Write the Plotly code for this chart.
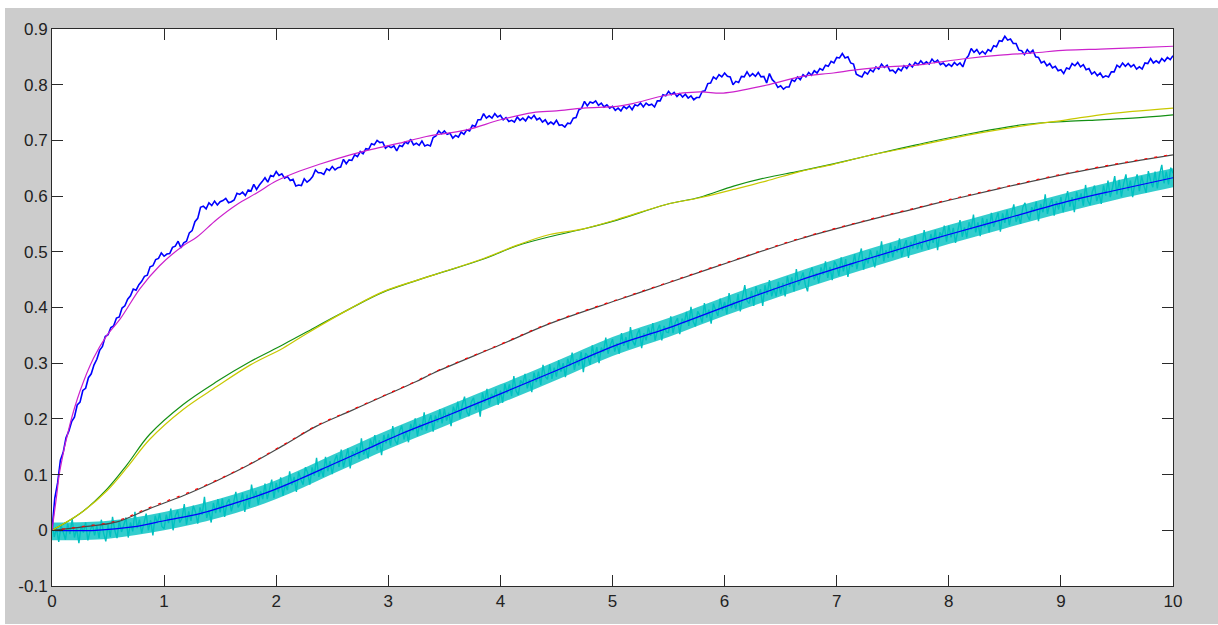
import plotly.graph_objects as go

# ---------------- data ----------------
x_ticks = [0, 1, 2, 3, 4, 5, 6, 7, 8, 9, 10]
x_tick_text = ["0", "1", "2", "3", "4", "5", "6", "7", "8", "9", "10"]
y_ticks = [-0.1, 0, 0.1, 0.2, 0.3, 0.4, 0.5, 0.6, 0.7, 0.8, 0.9]
y_tick_text = ["-0.1", "0", "0.1", "0.2", "0.3", "0.4", "0.5", "0.6", "0.7", "0.8", "0.9"]

# noisy blue trace, thousandths, one sample every 0.025 from 0 to 10
blue_step = 0.025
blue_milli = [
    0, 58, 85, 126, 140, 166, 178, 195, 203, 225, 230, 251, 255, 274, 281, 297, 307, 323, 330, 348,
    351, 364, 367, 381, 383, 399, 403, 415, 421, 433, 431, 441, 447, 456, 458, 473, 475, 486, 488, 498,
    492, 496, 497, 508, 510, 519, 507, 516, 519, 534, 538, 554, 560, 580, 582, 577, 588, 583, 591, 584,
    590, 592, 596, 588, 590, 593, 605, 603, 607, 601, 611, 609, 621, 612, 620, 626, 633, 625, 637, 635,
    644, 637, 640, 632, 635, 628, 630, 618, 620, 619, 631, 625, 629, 635, 647, 642, 642, 639, 649, 646,
    653, 647, 651, 652, 666, 658, 665, 664, 674, 671, 680, 676, 685, 684, 694, 692, 700, 696, 697, 686,
    690, 687, 690, 681, 691, 689, 697, 694, 702, 692, 695, 691, 699, 690, 692, 690, 705, 708, 717, 712,
    717, 711, 713, 704, 709, 706, 715, 711, 719, 717, 727, 725, 737, 737, 748, 740, 744, 740, 748, 742,
    745, 737, 741, 734, 736, 733, 742, 736, 740, 735, 743, 739, 745, 737, 740, 733, 737, 729, 733, 729,
    736, 727, 728, 724, 731, 730, 740, 741, 755, 758, 770, 762, 769, 767, 771, 763, 767, 760, 764, 758,
    761, 754, 758, 753, 761, 757, 762, 755, 764, 762, 767, 760, 767, 763, 765, 760, 771, 771, 782, 780,
    788, 782, 786, 779, 784, 778, 783, 776, 780, 773, 777, 777, 788, 789, 802, 803, 814, 810, 818, 814,
    821, 815, 814, 800, 806, 804, 815, 814, 823, 815, 820, 815, 822, 814, 815, 803, 820, 809, 804, 795,
    798, 792, 796, 796, 809, 806, 814, 809, 818, 814, 822, 817, 825, 821, 829, 826, 835, 833, 842, 839,
    849, 848, 856, 848, 850, 839, 837, 819, 816, 814, 823, 819, 827, 823, 832, 828, 837, 831, 835, 825,
    826, 821, 829, 825, 834, 829, 837, 832, 840, 836, 843, 837, 841, 837, 846, 840, 844, 836, 839, 833,
    837, 833, 840, 835, 839, 832, 846, 852, 865, 858, 863, 855, 860, 855, 863, 860, 870, 868, 879, 878,
    887, 880, 882, 874, 874, 862, 861, 854, 863, 857, 862, 850, 849, 839, 842, 834, 838, 830, 833, 825,
    827, 820, 830, 828, 838, 834, 840, 832, 836, 827, 829, 819, 823, 816, 821, 813, 816, 814, 823, 823,
    835, 831, 839, 833, 838, 832, 836, 828, 832, 828, 839, 838, 847, 839, 843, 839, 847, 842, 849, 845,
    852,
]

# magenta smooth fit of the blue trace
magenta_x = [0, 0.04, 0.07, 0.16, 0.25, 0.37, 0.49, 0.61, 0.785, 0.96, 1.17, 1.29, 1.47, 1.65, 1.83, 2.0,
             2.21, 2.4, 2.66, 2.9, 3.1, 3.34, 3.7, 4.0, 4.29, 4.5, 4.74, 5.04, 5.18, 5.48, 5.78, 5.99,
             6.37, 6.67, 6.97, 7.15, 7.42, 7.71, 7.86, 8.16, 8.46, 8.75, 9.05, 9.35, 9.64, 10]
magenta_y = [0, 0.06, 0.107, 0.19, 0.25, 0.309, 0.35, 0.38, 0.434, 0.475, 0.511, 0.526, 0.558, 0.585, 0.606, 0.627,
             0.645, 0.658, 0.674, 0.686, 0.695, 0.707, 0.719, 0.737, 0.75, 0.753, 0.758, 0.761, 0.766, 0.781, 0.787, 0.785,
             0.799, 0.814, 0.821, 0.826, 0.832, 0.835, 0.839, 0.847, 0.853, 0.857, 0.862, 0.864, 0.866, 0.869]

# green / yellow pair
gy_x = [0, 0.25, 0.49, 0.67, 0.87, 1.17, 1.47, 1.77, 2.06, 2.27, 2.66, 2.96, 3.40, 3.85, 4.15, 4.44,
        4.74, 5.04, 5.48, 5.78, 6.08, 6.37, 6.67, 6.97, 7.27, 7.71, 8.16, 8.69, 9.05, 9.35, 9.64, 10]
green_y = [0, 0.03, 0.074, 0.118, 0.172, 0.226, 0.267, 0.303, 0.333, 0.356, 0.398, 0.428, 0.458, 0.487, 0.511, 0.527,
           0.541, 0.557, 0.585, 0.598, 0.618, 0.633, 0.645, 0.658, 0.672, 0.692, 0.711, 0.729, 0.734, 0.737, 0.740, 0.746]
yellow_y = [0, 0.03, 0.071, 0.113, 0.163, 0.217, 0.258, 0.297, 0.327, 0.353, 0.398, 0.429, 0.458, 0.488, 0.512, 0.531,
            0.541, 0.558, 0.585, 0.597, 0.612, 0.627, 0.644, 0.657, 0.672, 0.690, 0.709, 0.727, 0.737, 0.746, 0.752, 0.758]

# red / dark-gray pair
rk_x = [0, 0.28, 0.58, 0.87, 1.17, 1.47, 1.77, 2.06, 2.36, 2.66, 2.96, 3.25, 3.40, 4.0, 4.44, 5.04,
        5.48, 6.08, 6.67, 7.27, 7.71, 8.01, 8.46, 9.05, 9.64, 10]
red_y = [0, 0.007, 0.017, 0.041, 0.064, 0.090, 0.120, 0.153, 0.188, 0.215, 0.242, 0.268, 0.283, 0.334, 0.372, 0.414,
         0.444, 0.485, 0.524, 0.557, 0.579, 0.594, 0.615, 0.641, 0.663, 0.675]
gray_y = [0, 0.006, 0.015, 0.039, 0.062, 0.089, 0.119, 0.152, 0.187, 0.214, 0.241, 0.267, 0.282, 0.333, 0.371, 0.413,
          0.443, 0.484, 0.523, 0.556, 0.578, 0.593, 0.614, 0.640, 0.662, 0.674]

# dark blue smooth curve under the cyan band
dblue_x = [0, 0.39, 0.72, 1.02, 1.32, 1.62, 1.92, 2.21, 2.51, 2.81, 3.10, 3.55, 4.0, 4.5, 5.04, 5.48,
           6.08, 6.67, 7.27, 7.71, 8.0, 8.5, 9.05, 9.5, 10]
dblue_y = [0, 0, 0.006, 0.018, 0.03, 0.048, 0.068, 0.092, 0.119, 0.146, 0.172, 0.208, 0.245, 0.287, 0.333, 0.362,
           0.407, 0.449, 0.487, 0.514, 0.531, 0.559, 0.59, 0.611, 0.633]

# dense core of the cyan noise band (upper / lower edge), every 0.5
band_x = [0, 0.5, 1, 1.5, 2, 2.5, 3, 3.5, 4, 4.5, 5, 5.5, 6, 6.5, 7, 7.5, 8, 8.5, 9, 9.5, 10]
band_upper = [0.014, 0.017, 0.033, 0.057, 0.090, 0.135, 0.180, 0.221, 0.262, 0.304, 0.347, 0.381,
              0.419, 0.454, 0.487, 0.518, 0.548, 0.576, 0.603, 0.628, 0.650]
band_lower = [-0.018, -0.015, 0.000, 0.023, 0.056, 0.101, 0.146, 0.187, 0.228, 0.270, 0.313, 0.347,
              0.385, 0.420, 0.453, 0.484, 0.514, 0.542, 0.569, 0.594, 0.616]

# cyan noisy measurement, thousandths, one sample every 0.02 from 0 to 10
cyan_step = 0.02
cyan_milli = [
    15, -12, 4, -21, 9, -3, -17, 12, -7, 20, -13, 3, -23, 8, -4, 14, -18, -1, 11, -9, 8, -14, 19, -5, -20,
    10, -12, 24, 0, -14, 17, -3, 9, 23, -13, 14, -2, 33, 4, 19, -5, 13, 30, 0, 18, -9, 26, 13, 30, 7,
    3, 28, 13, 39, 0, 26, 36, 14, 22, 47, 10, 34, 17, 44, 33, 12, 41, 28, 60, 22, 36, 14, 49, 31, 56,
    32, 57, 24, 49, 56, 34, 50, 69, 41, 48, 67, 33, 64, 42, 82, 57, 71, 46, 70, 56, 84, 56, 73, 91, 58,
    85, 68, 95, 62, 83, 72, 106, 81, 96, 69, 105, 91, 82, 113, 104, 82, 113, 98, 130, 96, 111, 96, 132, 106, 124,
    101, 125, 135, 114, 145, 113, 130, 147, 111, 142, 132, 149, 128, 165, 136, 148, 129, 163, 149, 171, 144, 162, 135, 171, 156,
    173, 152, 187, 162, 154, 178, 188, 163, 179, 158, 191, 178, 201, 169, 191, 180, 212, 179, 195, 207, 177, 206, 194, 217, 192,
    218, 197, 211, 187, 222, 210, 231, 201, 225, 240, 213, 205, 230, 238, 216, 231, 204, 247, 229, 254, 224, 245, 237, 254, 225,
    251, 229, 263, 246, 262, 241, 277, 250, 243, 269, 263, 281, 255, 271, 248, 283, 266, 285, 261, 297, 276, 271, 298, 272, 292,
    276, 305, 285, 300, 275, 308, 295, 319, 288, 307, 296, 320, 284, 318, 313, 297, 332, 310, 329, 300, 328, 320, 346, 317, 332,
    343, 321, 336, 317, 354, 331, 347, 326, 365, 340, 332, 352, 361, 327, 354, 341, 364, 349, 372, 341, 359, 369, 341, 367, 356,
    355, 384, 354, 373, 381, 352, 380, 372, 392, 367, 401, 375, 366, 393, 386, 373, 408, 382, 396, 371, 407, 395, 385, 416, 395,
    410, 388, 426, 399, 411, 397, 424, 393, 419, 440, 412, 407, 430, 403, 438, 421, 433, 403, 440, 423, 449, 420, 435, 420, 446,
    424, 444, 420, 456, 437, 454, 429, 469, 440, 451, 463, 441, 429, 462, 472, 450, 462, 444, 472, 459, 483, 453, 473, 449, 483,
    475, 457, 490, 465, 487, 455, 480, 473, 496, 469, 491, 506, 468, 490, 479, 503, 488, 472, 502, 489, 519, 483, 503, 489, 515,
    490, 510, 499, 524, 491, 509, 521, 489, 518, 506, 530, 505, 519, 504, 539, 516, 504, 532, 516, 539, 503, 535, 528, 547, 518,
    547, 526, 543, 516, 538, 557, 527, 544, 526, 553, 540, 567, 535, 553, 528, 561, 544, 559, 535, 570, 545, 558, 570, 536, 569,
    552, 575, 548, 568, 585, 554, 566, 550, 580, 588, 566, 557, 580, 572, 590, 555, 586, 571, 603, 568, 585, 595, 565, 591, 576,
    598, 571, 592, 609, 581, 598, 571, 608, 591, 605, 583, 620, 592, 584, 608, 619, 591, 605, 586, 619, 601, 628, 598, 615, 636,
    603, 629, 599, 623, 639, 610, 628, 598, 624, 639, 609, 636, 619, 606, 645, 628, 616, 644, 614, 639, 656, 623, 644, 621, 651,
    641,
]

# ---------------- figure ----------------
# page offset of the figure (white strip above / left of the grey frame)
OFF_L, OFF_T = 5, 8
W, H = 1218 - OFF_L, 624 - OFF_T
L, R, T, B = 52 - OFF_L, 45, 25 - OFF_T, 38

blue_x = [i * blue_step for i in range(len(blue_milli))]
blue_y = [v / 1000 for v in blue_milli]
cyan_x = [i * cyan_step for i in range(len(cyan_milli))]
cyan_y = [v / 1000 for v in cyan_milli]

CYAN = "#00c0c0"


def line_trace(x, y, color, width, smooth=False, dash=None):
    ln = dict(color=color, width=width, simplify=False)
    if smooth:
        ln["shape"] = "spline"
    if dash:
        ln["dash"] = dash
    return go.Scatter(x=x, y=y, mode="lines", line=ln, hoverinfo="skip")


fig = go.Figure()
lw = 1.2
# cyan band: dense core + spiky line
fig.add_trace(go.Scatter(x=band_x, y=band_lower, mode="lines", line=dict(width=0, shape="spline"),
                         hoverinfo="skip"))
fig.add_trace(go.Scatter(x=band_x, y=band_upper, mode="lines", line=dict(width=0, shape="spline"),
                         fill="tonexty", fillcolor="rgba(0,192,192,0.8)", hoverinfo="skip"))
fig.add_trace(line_trace(cyan_x, cyan_y, CYAN, 1.4))
fig.add_trace(line_trace(dblue_x, dblue_y, "#0000ff", lw, smooth=True))
fig.add_trace(line_trace(rk_x, gray_y, "#484848", 1.2, smooth=True))
fig.add_trace(line_trace(rk_x, red_y, "#ff0000", 1.2, smooth=True, dash="3px,7px"))
fig.add_trace(line_trace(gy_x, green_y, "#149014", lw, smooth=True))
fig.add_trace(line_trace(gy_x, yellow_y, "#c8c800", lw, smooth=True))
fig.add_trace(line_trace(blue_x, blue_y, "#0000ff", 1.6))
fig.add_trace(line_trace(magenta_x, magenta_y, "#cc22cc", lw, smooth=True))

axis_common = dict(
    showgrid=False, zeroline=False, showline=True, mirror="ticks",
    linecolor="#2a2a2a", linewidth=1, ticks="inside", ticklen=11, tickwidth=1,
    tickcolor="#2a2a2a", tickfont=dict(family="Liberation Sans, Arial, sans-serif", size=17, color="#222222"),
    fixedrange=True,
)
fig.update_xaxes(range=[0, 10], tickvals=x_ticks, ticktext=x_tick_text, **axis_common)
fig.update_yaxes(range=[-0.1, 0.9], tickvals=y_ticks, ticktext=y_tick_text, **axis_common)

fig.update_layout(
    width=W, height=H, margin=dict(l=L, r=R, t=T, b=B),
    paper_bgcolor="#cccccc", plot_bgcolor="white", showlegend=False,
)
fig.write_html(
    "out.html",
    post_script="document.body.style.margin='%dpx 0 0 %dpx';document.body.style.overflow='hidden';" % (OFF_T, OFF_L),
)
